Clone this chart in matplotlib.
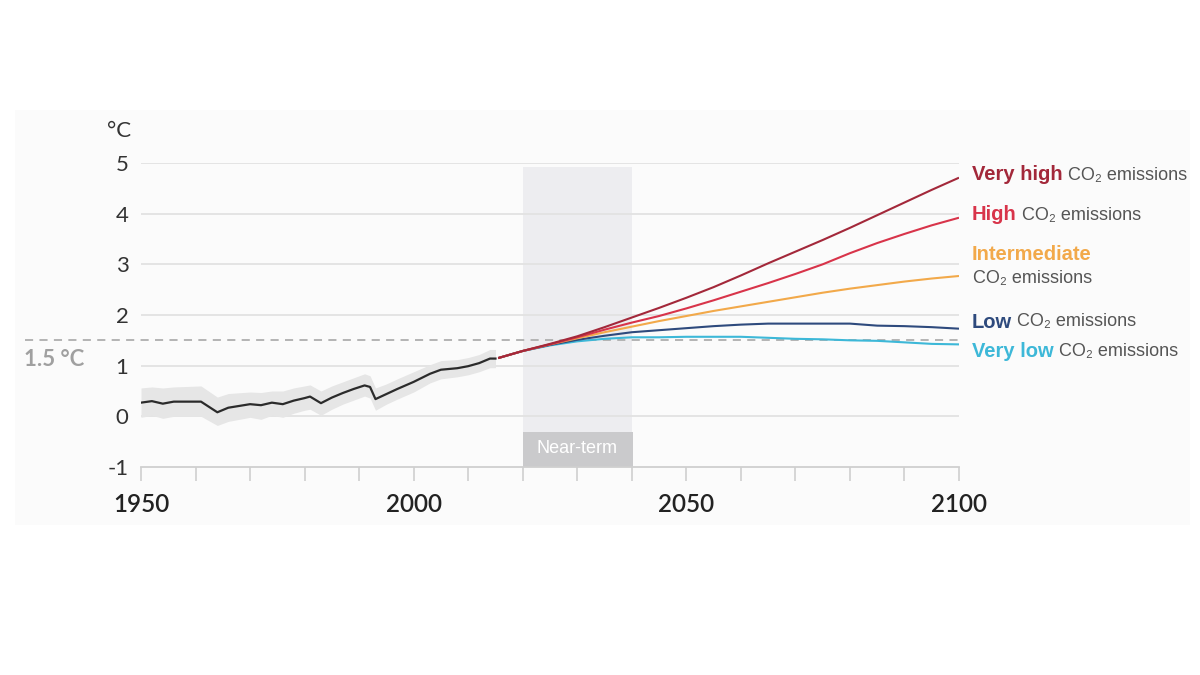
import matplotlib
matplotlib.use("Agg")
import matplotlib.pyplot as plt
from matplotlib.patches import Rectangle

# ---------------- data ----------------
hist_years = [1950, 1952, 1954, 1956, 1961, 1964, 1966, 1970, 1972, 1974, 1976, 1978, 1980, 1981,
              1983, 1985, 1987, 1989, 1991, 1992, 1993, 1995, 1997, 2000, 2003, 2005, 2008, 2010,
              2012, 2014, 2015]
hist_vals = [0.27, 0.30, 0.25, 0.29, 0.29, 0.08, 0.17, 0.24, 0.22, 0.27, 0.24, 0.31, 0.36, 0.39,
             0.26, 0.37, 0.46, 0.54, 0.61, 0.58, 0.34, 0.44, 0.54, 0.68, 0.84, 0.92, 0.95, 0.99,
             1.05, 1.14, 1.14]
hist_upper = [0.56, 0.58, 0.56, 0.58, 0.60, 0.38, 0.45, 0.48, 0.47, 0.50, 0.50, 0.56, 0.60, 0.62,
              0.50, 0.60, 0.68, 0.76, 0.84, 0.80, 0.56, 0.64, 0.74, 0.88, 1.02, 1.10, 1.12, 1.16,
              1.22, 1.32, 1.32]
hist_lower = [-0.02, 0.02, -0.04, 0.00, 0.00, -0.18, -0.10, -0.02, -0.06, 0.02, -0.02, 0.06, 0.12,
              0.14, 0.02, 0.14, 0.24, 0.32, 0.40, 0.36, 0.12, 0.24, 0.34, 0.48, 0.66, 0.74, 0.78,
              0.82, 0.88, 0.96, 0.96]

proj_years = [2015.5, 2020, 2025, 2030, 2035, 2040, 2045, 2050, 2055, 2060, 2065, 2070, 2075, 2080,
              2085, 2090, 2095, 2100]
very_high = [1.15, 1.29, 1.43, 1.58, 1.76, 1.95, 2.14, 2.34, 2.55, 2.78, 3.02, 3.25, 3.48, 3.72,
             3.97, 4.22, 4.47, 4.71]
high = [1.15, 1.29, 1.42, 1.56, 1.71, 1.85, 1.98, 2.13, 2.29, 2.46, 2.63, 2.81, 3.00, 3.22,
        3.42, 3.60, 3.77, 3.92]
intermediate = [1.15, 1.29, 1.42, 1.54, 1.66, 1.77, 1.88, 1.98, 2.08, 2.17, 2.26, 2.35, 2.44, 2.52,
                2.59, 2.66, 2.72, 2.77]
low = [1.15, 1.29, 1.41, 1.51, 1.59, 1.66, 1.70, 1.74, 1.78, 1.81, 1.83, 1.83, 1.83, 1.83,
       1.79, 1.78, 1.76, 1.73]
very_low = [1.15, 1.29, 1.40, 1.48, 1.53, 1.56, 1.56, 1.57, 1.57, 1.57, 1.55, 1.53, 1.52, 1.50,
            1.49, 1.46, 1.43, 1.42]

scenario_names = ["Very high", "High", "Intermediate", "Low", "Very low"]
scenario_colors = ["#A3283A", "#D8344A", "#F2A94A", "#2E4A7D", "#3DB8D8"]
scenario_series = [very_high, high, intermediate, low, very_low]

threshold = 1.5
near_start, near_end = 2020, 2040
near_top = 4.92
y_ticks = [-1, 0, 1, 2, 3, 4, 5]
x_major = [1950, 2000, 2050, 2100]
x_minor = [1960, 1970, 1980, 1990, 2010, 2020, 2030, 2040, 2060, 2070, 2080, 2090]

# ---------------- figure ----------------
fig = plt.figure(figsize=(12, 6.75), dpi=100, facecolor="white")
fig.patches.append(Rectangle((15 / 1200, 1 - 525 / 675), 1175 / 1200, 415 / 675,
                             transform=fig.transFigure, facecolor="#FBFBFB",
                             edgecolor="none", zorder=-10))
ax = fig.add_axes([141 / 1200, 1 - 467 / 675, 818 / 1200, 304 / 675])
ax.set_facecolor("none")
ax.set_xlim(1950, 2100)
ax.set_ylim(-1, 5)

for yv in y_ticks[1:]:
    ax.axhline(yv, color="#E2E2E2", lw=1.3, zorder=1)

# near-term shading
ax.add_patch(Rectangle((near_start, -1), near_end - near_start, near_top + 1,
                       facecolor="#EDEDF0", edgecolor="none", zorder=0.5))
ax.add_patch(Rectangle((near_start, -1), near_end - near_start + 0.3, 0.70,
                       facecolor="#CACACC", edgecolor="none", zorder=2))
ax.text((near_start + near_end) / 2, -0.64, "Near-term", ha="center", va="center",
        color="white", fontsize=13, family=["Liberation Sans", "DejaVu Sans"], zorder=3)

# 1.5 threshold
ax.axhline(threshold, xmin=(25 - 141) / 818, xmax=1.0, color="#AEAEAE", lw=1.3,
           linestyle=(0, (4.5, 3.5)), clip_on=False, zorder=2)
fig.text(24 / 1200, 1 - 360 / 675, "1.5 °C", ha="left", va="center", color="#A0A0A0",
         fontsize=16, fontweight="bold", family=["Lato", "DejaVu Sans"])

# historical
ax.fill_between(hist_years, hist_lower, hist_upper, color="#E6E6E6", lw=0, zorder=2)
ax.plot(hist_years, hist_vals, color="#2B2B2B", lw=1.6, zorder=4)

# projections (very high drawn last, on top)
for vals, col in reversed(list(zip(scenario_series, scenario_colors))):
    ax.plot(proj_years, vals, color=col, lw=1.5, zorder=4, solid_capstyle="butt")

for s in ["top", "right", "left"]:
    ax.spines[s].set_visible(False)
ax.spines["bottom"].set_color("#CFCFCF")
ax.spines["bottom"].set_linewidth(1.3)
ax.set_yticks(y_ticks)
ax.set_yticklabels([str(v) for v in y_ticks])
ax.tick_params(axis="y", length=0, pad=9, labelsize=16, labelcolor="#333333")
ax.set_xticks(x_major)
ax.set_xticks(x_minor, minor=True)
ax.set_xticklabels([str(v) for v in x_major])
ax.tick_params(axis="x", which="both", direction="out", length=10, width=1.2, color="#CFCFCF")
ax.tick_params(axis="x", which="major", pad=9, labelsize=17.5, labelcolor="#222222")
for lab in ax.get_yticklabels():
    lab.set_family(["Lato", "DejaVu Sans"])
for lab in ax.get_xticklabels():
    lab.set_family(["Lato", "DejaVu Sans"])
    lab.set_fontweight("semibold")

fig.text(107 / 1200, 1 - 131 / 675, "°C", ha="left", va="center", color="#333333",
         fontsize=16, family=["Lato", "DejaVu Sans"])

# right-hand labels
lab_font = ["Liberation Sans", "DejaVu Sans"]
label_rows = [(0, 175, True), (1, 215, True), (2, 255, False), (3, 322, True), (4, 352, True)]
for idx, ypix, inline in label_rows:
    t = fig.text(972 / 1200, 1 - ypix / 675, scenario_names[idx], ha="left", va="center",
                 color=scenario_colors[idx], fontsize=14.5, fontweight="bold", family=lab_font)
    if inline:
        ax.annotate(" CO₂ emissions", xy=(1, 0.5), xycoords=t, ha="left", va="center",
                    color="#555555", fontsize=13, family=lab_font, annotation_clip=False)
fig.text(973 / 1200, 1 - 278 / 675, "CO₂ emissions", ha="left", va="center",
         color="#555555", fontsize=13, family=lab_font)

fig.savefig("out.png", dpi=100, facecolor="white")
